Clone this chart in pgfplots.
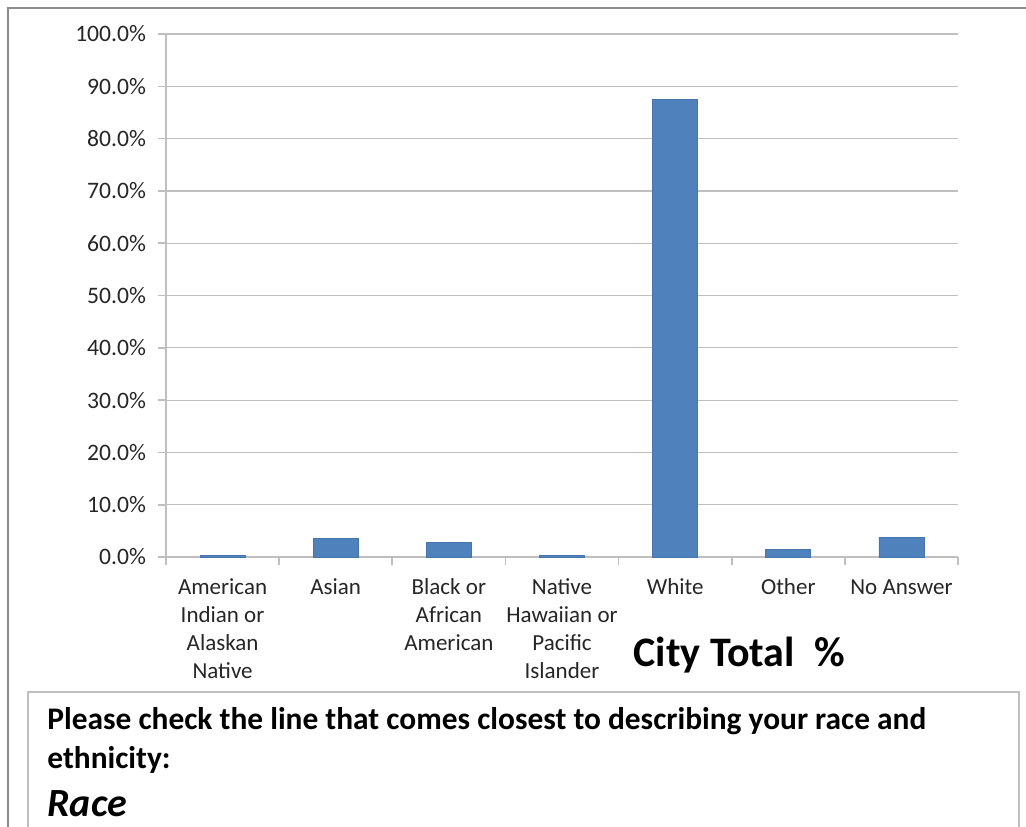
\documentclass[border=0pt]{standalone}
\usepackage{fontspec}
\setmainfont{Carlito}
\usepackage{pgfplots}
\pgfplotsset{compat=1.18}
\definecolor{barblue}{HTML}{4F81BD}
\definecolor{gridgray}{HTML}{BFBFBF}
\definecolor{framegray}{HTML}{8C8C8C}
\begin{document}
\begin{tikzpicture}
\begin{scope}[x=0.5pt,y=-0.5pt]
\useasboundingbox (0,0) rectangle (1026,826);
\draw[framegray, line width=1.2pt] (8,840) -- (8,8) -- (1040,8);
\draw[gridgray, line width=1pt] (28,840) -- (28,692) -- (1019,692) -- (1019,840);
\node[anchor=center, font=\fontsize{21}{24}\selectfont\bfseries] at (739,655) {City Total\ \ \%};
\node[anchor=base west, font=\fontsize{15.7}{18}\selectfont\bfseries, inner sep=0pt] at (47,729) {Please check the line that comes closest to describing your race and};
\node[anchor=base west, font=\fontsize{15.7}{18}\selectfont\bfseries, inner sep=0pt] at (47,768) {ethnicity:};
\node[anchor=base west, font=\fontsize{20}{22}\selectfont\bfseries\itshape, inner sep=0pt] at (47,816) {Race};
\end{scope}
\begin{axis}[
  at={(83pt,-278.5pt)}, anchor=south west,
  scale only axis, width=396pt, height=261.5pt,
  xmin=-0.5, xmax=6.5, ymin=0, ymax=100,
  ytick={0,10,...,100},
  yticklabel={\pgfmathprintnumber[fixed,fixed zerofill,precision=1]{\tick}\%},
  /pgf/number format/assume math mode=true,
  ymajorgrids, grid style={gridgray, line width=0.6pt},
  axis x line*=bottom, axis y line*=left,
  axis line style={gridgray, line width=0.8pt},
  tick align=outside, major tick length=4pt,
  tick style={gridgray, line width=0.8pt},
  xtick={0,...,6},
  xtick style={draw=none},
  typeset ticklabels with strut,
  xticklabels={{American\\Indian or\\Alaskan\\Native},Asian,{Black or\\African\\American},{Native\\Hawaiian or\\Pacific\\Islander},White,Other,No Answer},
  xticklabel style={align=center, anchor=north, font=\fontsize{11.5}{14}\selectfont, text=black!85, yshift=-1.5pt},
  yticklabel style={font=\fontsize{11.8}{14}\selectfont, text=black!85, xshift=-2.5pt},
  extra x ticks={-0.5,0.5,...,6.5},
  extra x tick labels={},
  extra x tick style={xtick style={draw=gridgray, line width=0.8pt}},
  ybar, bar width=22.5pt,
]
\addplot[fill=barblue, draw=barblue!90!black, line width=0.3pt] coordinates {(0,0.3) (1,3.6) (2,2.8) (3,0.3) (4,87.5) (5,1.5) (6,3.8)};
\end{axis}
\end{tikzpicture}
\end{document}
